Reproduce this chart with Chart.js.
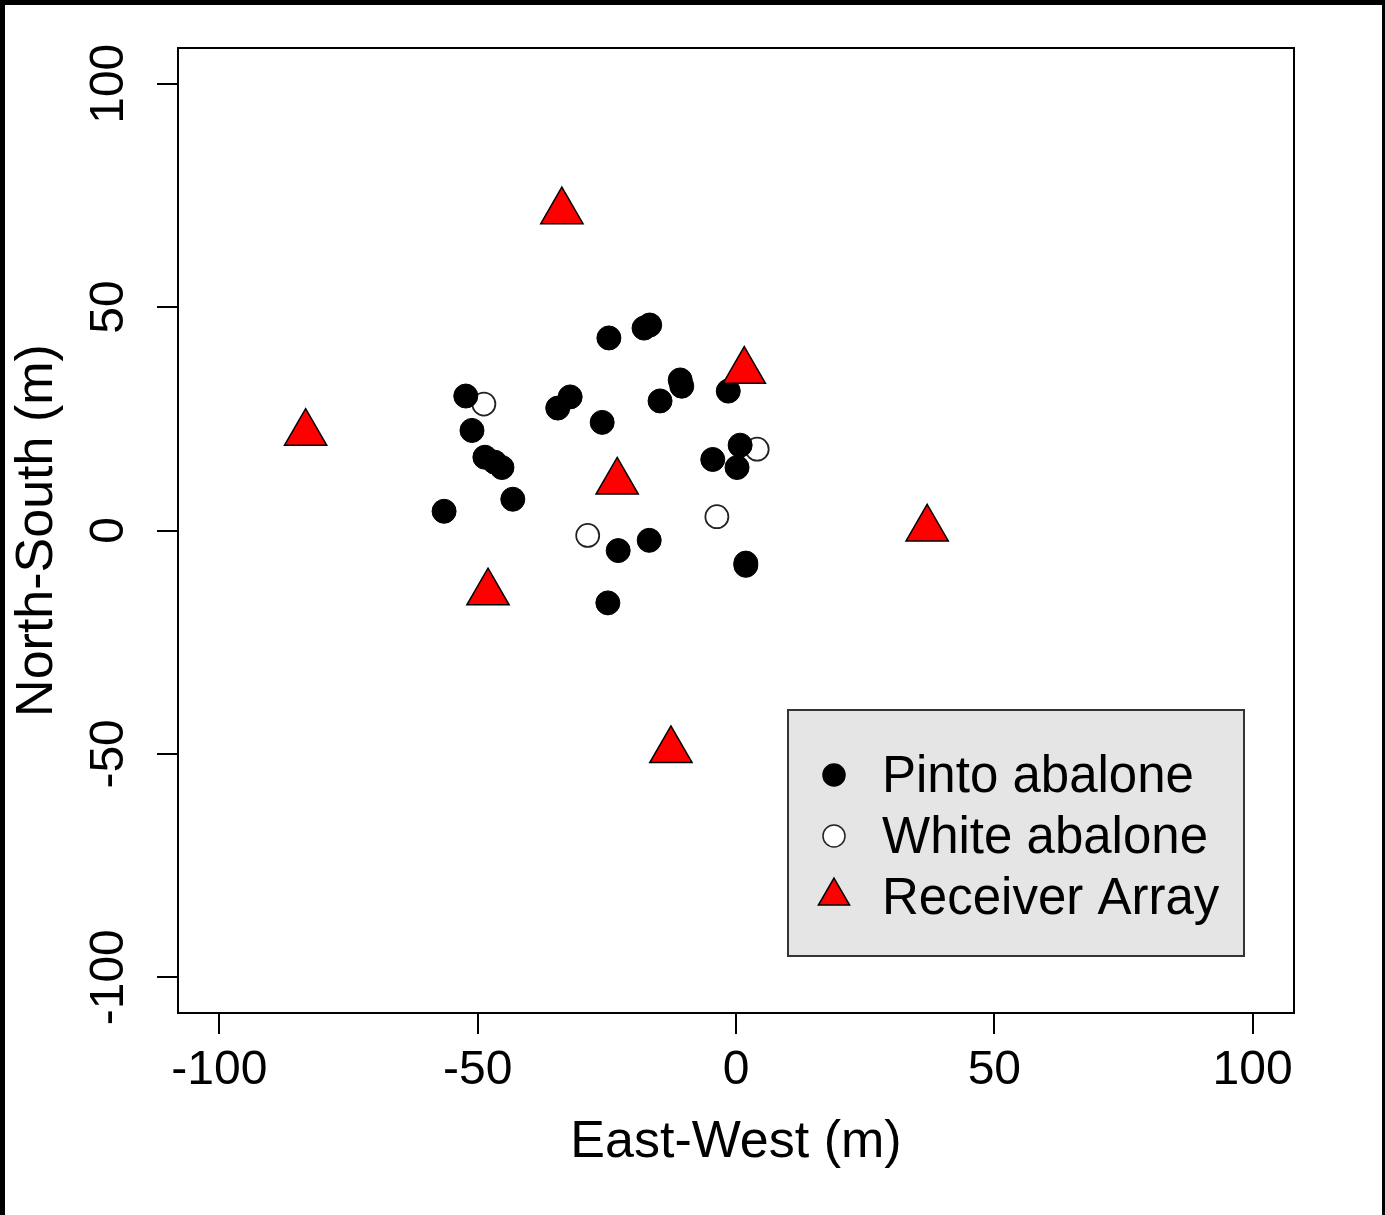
<!DOCTYPE html>
<html>
<head>
<meta charset="utf-8">
<script src="https://cdn.jsdelivr.net/npm/chart.js@4.4.1/dist/chart.umd.min.js"></script>
<style>
  html, body { margin: 0; padding: 0; background: #fff; }
  #frame {
    width: 1385px; height: 1215px; box-sizing: border-box;
    border-top: 5px solid #000; border-left: 5px solid #000; border-right: 3px solid #000;
    background: #fff;
  }
  canvas { display: block; }
</style>
</head>
<body>
<div id="frame"><canvas id="mapChart" width="1377" height="1210"></canvas></div>
<script>
// positions in metres (East-West, North-South)
const pintoX = [-24.6, -17.8, -16.7, -52.3, -51.1, -48.6, -46.7, -45.3, -43.2, -56.5, -34.5, -32.1, -25.9, -14.7, -10.8, -10.5, -1.5, 0.8, -4.5, 0.2, -22.8, -16.8, -24.8, 1.9, 1.9];
const pintoY = [43.1, 45.3, 46.0, 30.1, 22.4, 16.4, 15.3, 14.1, 7.0, 4.3, 27.4, 29.9, 24.2, 29.0, 33.7, 32.3, 31.2, 19.1, 15.9, 14.1, -4.5, -2.2, -16.2, -7.3, -7.8];
const whiteX = [-48.8, 4.1, -3.7, -28.7];
const whiteY = [28.3, 18.2, 3.1, -1.1];
const receiverX = [-33.7, -83.3, -48.0, -12.6, 37.0, -23.0, 1.6];
const receiverY = [71.4, 21.8, -13.9, -49.2, 0.4, 10.9, 35.7];

const xTicks = [-100, -50, 0, 50, 100];
const yTicks = [-100, -50, 0, 50, 100];
const seriesNames = ['Pinto abalone', 'White abalone', 'Receiver Array'];

const FONT = '"Liberation Sans", Arial, sans-serif';
Chart.defaults.font.family = FONT;
Chart.defaults.color = '#000';

function toPoints(xs, ys) {
    return xs.map((x, i) => ({ x: x, y: ys[i] }));
}

// box round the plot area + rotated y tick labels (R style)
const boxAndLabels = {
    id: 'boxAndLabels',
    afterDraw(chart) {
        const ctx = chart.ctx;
        const a = chart.chartArea;
        ctx.save();
        ctx.strokeStyle = '#000';
        ctx.lineWidth = 2;
        ctx.strokeRect(a.left, a.top, a.right - a.left, a.bottom - a.top);

        const ys = chart.scales.y;
        ctx.fillStyle = '#000';
        ctx.font = '48px ' + FONT;
        ctx.textAlign = 'center';
        ctx.textBaseline = 'middle';
        yTicks.forEach(v => {
            ctx.save();
            ctx.translate(105, ys.getPixelForValue(v));
            ctx.rotate(-Math.PI / 2);
            ctx.fillText(String(v), 0, 0);
            ctx.restore();
        });
        ctx.restore();
    }
};

// legend in the lower right corner of the plot
const insetLegend = {
    id: 'insetLegend',
    afterDraw(chart) {
        const ctx = chart.ctx;
        ctx.save();
        ctx.fillStyle = '#e5e5e5';
        ctx.fillRect(783, 705, 456, 246);
        ctx.strokeStyle = '#333';
        ctx.lineWidth = 2;
        ctx.strokeRect(783, 705, 456, 246);

        const mx = 829;
        const rows = [770, 831, 891];
        const baselines = [787, 848, 909];
        chart.data.datasets.forEach((ds, i) => {
            const y = rows[i];
            ctx.beginPath();
            if (ds.pointStyle === 'triangle') {
                const r = 18;
                ctx.moveTo(mx, y - r);
                ctx.lineTo(mx + r * 0.866, y + r / 2);
                ctx.lineTo(mx - r * 0.866, y + r / 2);
                ctx.closePath();
            } else {
                ctx.arc(mx, y, 11, 0, Math.PI * 2);
            }
            ctx.fillStyle = ds.backgroundColor;
            ctx.fill();
            ctx.strokeStyle = ds.borderColor;
            ctx.lineWidth = 1.5;
            ctx.stroke();

            ctx.fillStyle = '#000';
            ctx.font = '51px ' + FONT;
            ctx.textAlign = 'left';
            ctx.textBaseline = 'alphabetic';
            ctx.fillText(ds.label, 877, baselines[i]);
        });
        ctx.restore();
    }
};

const ctx = document.getElementById('mapChart').getContext('2d');
new Chart(ctx, {
    type: 'scatter',
    data: {
        datasets: [{
            label: seriesNames[0],
            data: toPoints(pintoX, pintoY),
            pointStyle: 'circle',
            pointRadius: 12,
            backgroundColor: '#000',
            borderColor: '#000',
            borderWidth: 1,
            order: 2
        }, {
            label: seriesNames[1],
            data: toPoints(whiteX, whiteY),
            pointStyle: 'circle',
            pointRadius: 11.5,
            backgroundColor: '#fff',
            borderColor: '#222',
            borderWidth: 1.8,
            order: 3
        }, {
            label: seriesNames[2],
            data: toPoints(receiverX, receiverY),
            pointStyle: 'triangle',
            pointRadius: 24.4,
            backgroundColor: '#ff0000',
            borderColor: '#000',
            borderWidth: 1.5,
            order: 1
        }]
    },
    options: {
        responsive: false,
        animation: false,
        devicePixelRatio: 1,
        layout: {
            padding: { top: 43, right: 88, left: 0, bottom: 0 }
        },
        plugins: {
            legend: { display: false },
            tooltip: { enabled: false }
        },
        scales: {
            x: {
                type: 'linear',
                position: 'bottom',
                min: -108,
                max: 108,
                afterBuildTicks: s => { s.ticks = xTicks.map(v => ({ value: v })); },
                afterFit: s => { s.height = 202; },
                ticks: {
                    font: { size: 48 },
                    color: '#000',
                    padding: 8
                },
                grid: {
                    drawOnChartArea: false,
                    color: '#000',
                    lineWidth: 2,
                    tickLength: 21
                },
                border: { display: true, color: '#000', width: 2 },
                title: {
                    display: true,
                    text: 'East-West (m)',
                    font: { size: 52 },
                    color: '#000',
                    padding: { top: 0, bottom: 41 }
                }
            },
            y: {
                type: 'linear',
                position: 'left',
                min: -108,
                max: 108,
                afterBuildTicks: s => { s.ticks = yTicks.map(v => ({ value: v })); },
                afterFit: s => { s.width = 173; },
                ticks: { display: false },
                grid: {
                    drawOnChartArea: false,
                    color: '#000',
                    lineWidth: 2,
                    tickLength: 21
                },
                border: { display: true, color: '#000', width: 2 },
                title: {
                    display: true,
                    text: 'North-South (m)',
                    font: { size: 52 },
                    color: '#000',
                    padding: { top: 1, bottom: 0 }
                }
            }
        }
    },
    plugins: [boxAndLabels, insetLegend]
});
</script>
</body>
</html>
